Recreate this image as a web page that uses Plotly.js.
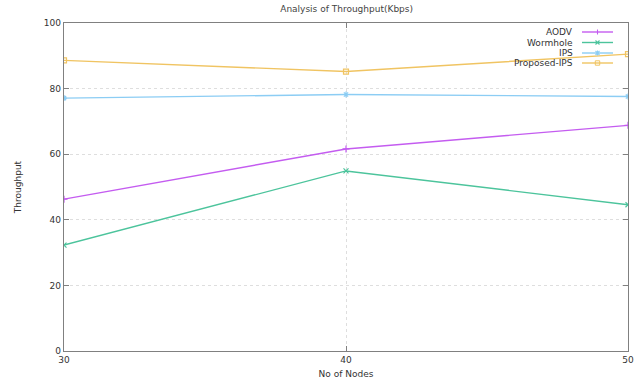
<!DOCTYPE html>
<html>
<head>
<meta charset="utf-8">
<script src="https://cdn.plot.ly/plotly-3.0.1.min.js"></script>
<style>html,body{margin:0;padding:0;background:#fff;}#chart{width:636px;height:383px;}</style>
</head>
<body>
<div id="chart"></div>
<script>
var nodes = [30, 40, 50];
var seriesNames = ["AODV", "Wormhole", "IPS", "Proposed-IPS"];
var aodv = [46.3, 61.6, 68.8];
var wormhole = [32.3, 54.9, 44.6];
var ips = [77.1, 78.2, 77.6];
var proposedIps = [88.6, 85.2, 90.5];
var yTicks = [0, 20, 40, 60, 80, 100];

(function () {
var colors = ["#c45cf0", "#4cc49c", "#8ccdf4", "#f0c462"];
var symbols = ["cross-thin-open", "x-thin-open", "asterisk-open", "square-open"];
var values = [aodv, wormhole, ips, proposedIps];

var traces = values.map(function (v, i) {
  return {
    x: nodes, y: v, name: seriesNames[i], type: "scatter", mode: "lines+markers",
    line: {color: colors[i], width: 1.4},
    marker: {symbol: symbols[i], size: 5, color: colors[i], line: {color: colors[i], width: 1.2}},
    showlegend: false
  };
});

var shapes = [];
var annotations = [];
var rowY = [32, 42.5, 53, 63];
var H = 383, mTop = 23, mBottom = 32, ph = H - mTop - mBottom;
function py(p) { return 1 - (p - mTop) / ph; }
var W = 636, mLeft = 64, mRight = 8, pw = W - mLeft - mRight;
function px(p) { return (p - mLeft) / pw; }
function seg(x0, y0, x1, y1, c) {
  shapes.push({type: "line", xref: "paper", yref: "paper", x0: px(x0), x1: px(x1), y0: py(y0), y1: py(y1),
    line: {color: c, width: 1.1}});
}
seriesNames.forEach(function (n, i) {
  var yy = rowY[i], c = colors[i], cx = 597.5;
  annotations.push({xref: "paper", yref: "paper", x: px(575), y: py(yy), xanchor: "right", yanchor: "middle",
    text: n, showarrow: false, font: {family: "DejaVu Sans, sans-serif", size: 9, color: "#333"}});
  shapes.push({type: "line", xref: "paper", yref: "paper", x0: px(582), x1: px(613), y0: py(yy), y1: py(yy),
    line: {color: c, width: 1.4}});
  if (i === 0) { seg(cx, yy - 2.5, cx, yy + 2.5, c); }
  if (i === 1) { seg(cx - 2, yy - 2, cx + 2, yy + 2, c); seg(cx - 2, yy + 2, cx + 2, yy - 2, c); }
  if (i === 2) { seg(cx, yy - 2.5, cx, yy + 2.5, c); seg(cx - 2, yy - 2, cx + 2, yy + 2, c); seg(cx - 2, yy + 2, cx + 2, yy - 2, c); }
  if (i === 3) {
    shapes.push({type: "rect", xref: "paper", yref: "paper", x0: px(cx - 2.2), x1: px(cx + 2.2), y0: py(yy - 2.2), y1: py(yy + 2.2),
      line: {color: c, width: 1}, fillcolor: "rgba(0,0,0,0)"});
  }
});

var layout = {
  width: 636, height: 383,
  margin: {l: mLeft, r: mRight, t: mTop, b: mBottom},
  paper_bgcolor: "#fff", plot_bgcolor: "#fff",
  font: {family: "DejaVu Sans, sans-serif", size: 9, color: "#333"},
  title: {text: "Analysis of Throughput(Kbps)", x: 0.545, xanchor: "center", y: 0.977, yanchor: "middle",
    font: {size: 9, color: "#444"}},
  xaxis: {
    range: [30, 50], tickvals: nodes, ticktext: nodes.map(String),
    showgrid: true, gridcolor: "#dedede", griddash: "dot", gridwidth: 1,
    showline: true, linecolor: "#808080", linewidth: 1.2, mirror: "ticks",
    ticks: "inside", ticklen: 5, tickcolor: "#808080", zeroline: false,
    title: {text: "No of Nodes", standoff: 6, font: {size: 9, color: "#333"}},
    tickfont: {size: 9, color: "#333"}
  },
  yaxis: {
    range: [0, 100], tickvals: yTicks, ticktext: yTicks.map(String),
    showgrid: true, gridcolor: "#dedede", griddash: "dot", gridwidth: 1,
    showline: true, linecolor: "#808080", linewidth: 1.2, mirror: "ticks",
    ticks: "inside", ticklen: 5, tickcolor: "#808080", zeroline: false,
    title: {text: "Throughput", standoff: 20, font: {size: 9, color: "#333"}},
    tickfont: {size: 9, color: "#333"}
  },
  shapes: shapes,
  annotations: annotations,
  showlegend: false
};

Plotly.newPlot("chart", traces, layout, {staticPlot: true, displayModeBar: false});
})();
</script>
</body>
</html>
